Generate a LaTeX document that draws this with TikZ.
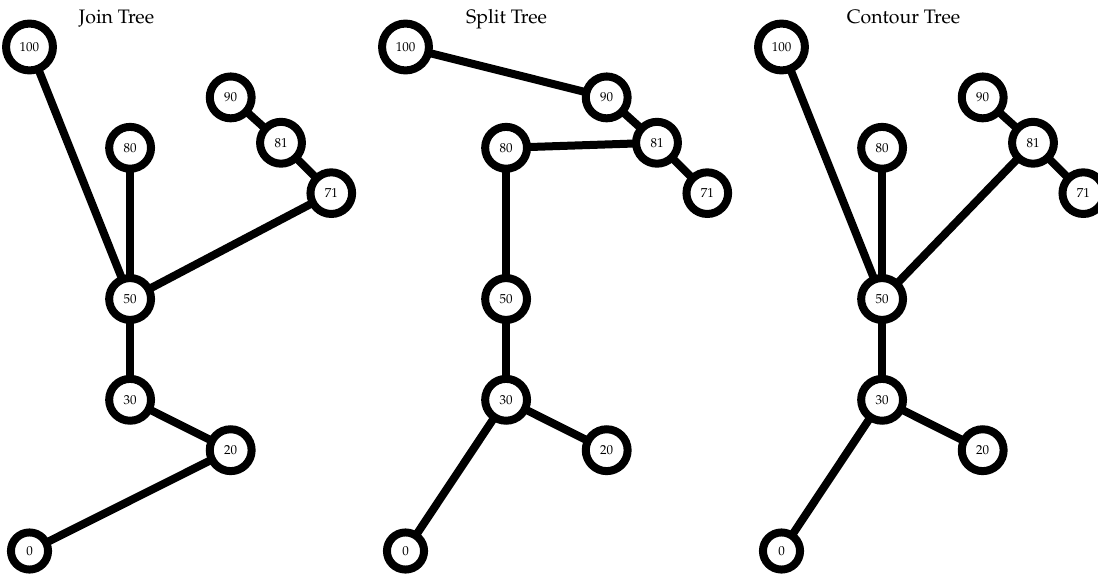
\documentclass[tikz,border=0pt]{standalone}
\usepackage[T1]{fontenc}
\usepackage{mathpazo}
\usetikzlibrary{backgrounds}
\tikzset{
  tn/.style={circle, draw=black, fill=white, line width=8pt, inner sep=9.2pt, font=\fontsize{13}{15}\selectfont},
  ed/.style={line width=8pt, draw=black},
  ttl/.style={anchor=base, font=\fontsize{19.5}{22}\selectfont}
}
\newcommand{\gx}[1]{29.5+50.3*#1}
\newcommand{\gy}[1]{551-5.04*#1}
\begin{document}
\begin{tikzpicture}[x=1pt,y=-1pt]
\useasboundingbox (0,0) rectangle (1098,577);
% titles
\node[ttl] (t1) at (116.5,23.3) {Join Tree};
\node[ttl] (t2) at (506.6,23.3) {Split Tree};
\node[ttl] (t3) at (903.5,23.3) {Contour Tree};
% ---------- Join tree
\begin{scope}[xshift=0pt]
\node[tn] (j100) at ({\gx{0}},{\gy{100}}) {100};
\node[tn] (j90) at ({\gx{4}},{\gy{90}}) {90};
\node[tn] (j81) at ({\gx{5}},{\gy{81}}) {81};
\node[tn] (j80) at ({\gx{2}},{\gy{80}}) {80};
\node[tn] (j71) at ({\gx{6}},{\gy{71}}) {71};
\node[tn] (j50) at ({\gx{2}},{\gy{50}}) {50};
\node[tn] (j30) at ({\gx{2}},{\gy{30}}) {30};
\node[tn] (j20) at ({\gx{4}},{\gy{20}}) {20};
\node[tn] (j0) at ({\gx{0}},{\gy{0}}) {0};
\end{scope}
% ---------- Split tree
\begin{scope}[xshift=376pt]
\node[tn] (s100) at ({\gx{0}},{\gy{100}}) {100};
\node[tn] (s90) at ({\gx{4}},{\gy{90}}) {90};
\node[tn] (s81) at ({\gx{5}},{\gy{81}}) {81};
\node[tn] (s80) at ({\gx{2}},{\gy{80}}) {80};
\node[tn] (s71) at ({\gx{6}},{\gy{71}}) {71};
\node[tn] (s50) at ({\gx{2}},{\gy{50}}) {50};
\node[tn] (s30) at ({\gx{2}},{\gy{30}}) {30};
\node[tn] (s20) at ({\gx{4}},{\gy{20}}) {20};
\node[tn] (s0) at ({\gx{0}},{\gy{0}}) {0};
\end{scope}
% ---------- Contour tree
\begin{scope}[xshift=752pt]
\node[tn] (c100) at ({\gx{0}},{\gy{100}}) {100};
\node[tn] (c90) at ({\gx{4}},{\gy{90}}) {90};
\node[tn] (c81) at ({\gx{5}},{\gy{81}}) {81};
\node[tn] (c80) at ({\gx{2}},{\gy{80}}) {80};
\node[tn] (c71) at ({\gx{6}},{\gy{71}}) {71};
\node[tn] (c50) at ({\gx{2}},{\gy{50}}) {50};
\node[tn] (c30) at ({\gx{2}},{\gy{30}}) {30};
\node[tn] (c20) at ({\gx{4}},{\gy{20}}) {20};
\node[tn] (c0) at ({\gx{0}},{\gy{0}}) {0};
\end{scope}
\begin{pgfonlayer}{background}
% join edges
\draw[ed] (j100.center) -- (j50.center);
\draw[ed] (j80.center) -- (j50.center);
\draw[ed] (j90.center) -- (j81.center);
\draw[ed] (j81.center) -- (j71.center);
\draw[ed] (j71.center) -- (j50.center);
\draw[ed] (j50.center) -- (j30.center);
\draw[ed] (j30.center) -- (j20.center);
\draw[ed] (j20.center) -- (j0.center);
% split edges
\draw[ed] (s100.center) -- (s90.center);
\draw[ed] (s90.center) -- (s81.center);
\draw[ed] (s81.center) -- (s71.center);
\draw[ed] (s81.center) -- (s80.center);
\draw[ed] (s80.center) -- (s50.center);
\draw[ed] (s50.center) -- (s30.center);
\draw[ed] (s30.center) -- (s20.center);
\draw[ed] (s30.center) -- (s0.center);
% contour edges
\draw[ed] (c100.center) -- (c50.center);
\draw[ed] (c80.center) -- (c50.center);
\draw[ed] (c90.center) -- (c81.center);
\draw[ed] (c81.center) -- (c71.center);
\draw[ed] (c81.center) -- (c50.center);
\draw[ed] (c50.center) -- (c30.center);
\draw[ed] (c30.center) -- (c20.center);
\draw[ed] (c30.center) -- (c0.center);
\end{pgfonlayer}
\end{tikzpicture}
\end{document}
